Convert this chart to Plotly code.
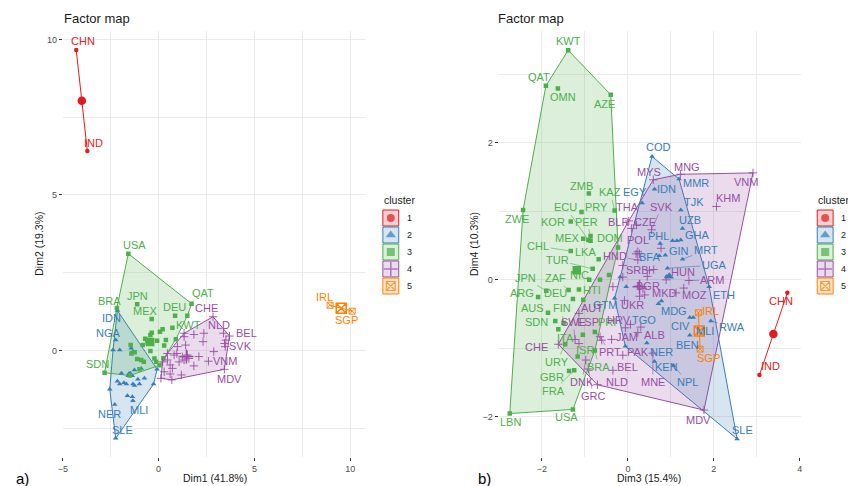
"""Two fviz_cluster style factor maps (Dim1/Dim2 and Dim3/Dim4) side by side."""

import plotly.graph_objects as go

W, H = 848, 486
FONT = "Liberation Sans, Arial, sans-serif"
COLORS = ["#E41A1C", "#377EB8", "#4DAF4A", "#984EA3", "#FF7F00"]
FILLS = ["rgba(228,26,28,0.2)", "rgba(55,126,184,0.2)", "rgba(77,175,74,0.2)",
         "rgba(152,78,163,0.2)", "rgba(255,127,0,0.2)"]
SYMBOLS = ["circle", "triangle-up", "square", "cross-thin", "square-x-open"]
CLUSTERS = ["1", "2", "3", "4", "5"]

# ---- panel a: Dim1 / Dim2 ----
A_C1_NAMES = ["CHN", "IND"]
A_C1_X = [-4.30, -3.72]
A_C1_Y = [9.66, 6.41]

A_C2_NAMES = ["IDN", "NGA", "", "", "", "", "", "", "", "", "", "", "", "", "",
              "", "", "", "", "", "", "", "MLI", "NER", "SLE", "", "", ""]
A_C2_X = [-2.15, -2.24, -2.38, -2.03, -1.43, -1.34, -1.55, -1.45, -1.26, -0.91, -1.94, -2.15,
          -2.03, -1.81, -1.68, -1.34, -1.26, -1.00, -1.08, -0.74, -1.63, -1.37, -1.34, -2.29,
          -2.24, -2.55, -0.26, -0.08]
A_C2_Y = [1.28, 0.33, 0.01, 0.01, 0.07, -0.04, -0.75, -0.82, -0.63, -0.58, -0.74, -0.99,
          -1.08, -1.04, -1.08, -1.08, -1.13, -1.08, -0.93, -0.90, -1.46, -1.49, -1.62, -1.74,
          -2.83, -1.25, -1.08, -0.61]

A_C3_NAMES = ["USA", "QAT", "BRA", "SDN", "JPN", "MEX", "DEU", "", "KWT", "", "", "", "",
              "", "", "", "", "", "", "", "", "", "", "", "", "", "", "", "", "", "", "",
              "", "", ""]
A_C3_X = [-1.58, 1.72, -2.18, -2.82, -1.12, -0.36, 0.86, 1.50, 0.72, 0.21, 0.07, -0.36,
          -0.43, -0.70, -0.60, -0.48, -0.57, -0.08, 0.38, 0.29, -0.83, -1.46, -1.25, -1.42,
          -1.12, -0.91, -0.77, -0.43, -0.22, -0.13, 0.25, -1.00, -1.50, 0.05, 0.90]
A_C3_Y = [3.11, 1.50, 1.36, -0.72, 1.48, 1.01, 1.11, 1.11, 0.73, 0.68, 0.60, 0.57,
          0.49, 0.37, 0.33, 0.30, 0.23, 0.31, 0.33, 0.16, 0.17, 0.17, -0.06, -0.10,
          -0.28, -0.31, -0.37, -0.02, -0.26, -0.37, -0.25, -0.61, -0.81, -0.48, 0.36]

A_C4_NAMES = ["CHE", "NLD", "BEL", "SVK", "VNM", "MDV"] + [""] * 29
A_C4_X = [2.84, 3.39, 3.70, 3.44, 2.88, 3.43, 3.51, 3.48, 2.36, 1.84, 2.32, 1.33, 1.41,
          0.98, 0.95, 1.24, 1.50, 1.58, 1.33, 1.07, 1.84, 1.19, 0.69, 0.12, 0.21, 0.46,
          0.60, 0.72, 0.29, 0.60, 0.81, 0.46, 2.10, 2.60, 1.33]
A_C4_Y = [1.08, 0.55, 0.46, 0.22, -0.04, -0.61, 0.33, 0.12, 0.55, 0.51, 0.28, 0.44, 0.17,
          0.12, -0.10, -0.21, -0.15, -0.26, -0.31, -0.37, -0.50, -0.79, -0.95, -0.90,
          -0.37, -0.31, -0.47, -0.58, -0.69, -0.76, -0.15, -0.10, -0.20, -0.35, 0.55]

A_C5_NAMES = ["IRL", "SGP"]
A_C5_X = [8.95, 10.10]
A_C5_Y = [1.45, 1.26]

A_CENTER_X = [-4.01, -1.48, -0.44, 1.45, 9.53]
A_CENTER_Y = [8.03, -0.79, 0.27, -0.20, 1.355]

# ---- panel b: Dim3 / Dim4 ----
B_C1_NAMES = ["CHN", "IND"]
B_C1_X = [3.71, 3.06]
B_C1_Y = [-0.19, -1.39]

B_C2_NAMES = ["COD", "MMR", "IDN", "EGY", "TJK", "UZB", "GHA", "", "", "PHL", "GIN", "BFA",
              "MRT", "UGA", "ETH", "GTM", "", "", "MDG", "TGO", "CIV", "MLI", "RWA", "BEN",
              "NER", "", "KEN", "NPL", "SLE", ""]
B_C2_X = [0.56, 1.19, 0.62, 0.33, 1.23, 1.27, 1.23, 1.14, 1.04, 0.75, 0.87, 0.73, 1.27,
          0.92, 1.89, -0.31, -0.04, -0.18, 0.78, 0.71, 1.44, 1.52, 1.93, 1.44, 0.44, -0.06,
          0.62, 1.06, 2.54, 0.90]
B_C2_Y = [1.80, 1.47, 1.32, 1.12, 1.02, 0.75, 0.58, 0.57, 0.57, 0.53, 0.36, 0.35, 0.30,
          0.17, -0.10, -0.27, -0.10, 0.04, -0.31, -0.35, -0.55, -0.55, -0.60, -0.81, -0.92,
          -0.97, -1.19, -1.25, -2.32, 0.05]

B_C3_NAMES = ["KWT", "QAT", "OMN", "AZE", "ZMB", "KAZ", "ZWE", "PRY", "KOR", "MEX", "ECU",
              "PER", "DOM", "CHL", "LKA", "TUR", "NIC", "", "", "", "JPN", "ARG", "ZAF",
              "DEU", "HTI", "", "AUS", "SDN", "FIN", "ITA", "URY", "", "PRI", "ISR", "BRA",
              "GBR", "FRA", "USA", "LBN"]
B_C3_X = [-1.39, -1.91, -1.63, -0.40, -0.91, -0.31, -2.44, -1.08, -1.33, -1.04, -0.92,
          -0.87, -0.87, -1.33, -0.68, -0.82, -0.90, -0.65, -0.44, -0.23, -1.90, -2.09,
          -1.38, -1.28, -1.04, -1.14, -1.86, -1.69, -1.50, -1.62, -1.46, -1.05, -0.77,
          -1.17, -0.77, -1.37, -1.25, -1.28, -2.75]
B_C3_Y = [3.35, 2.83, 2.79, 2.70, 1.26, 1.01, 1.02, 0.99, 0.85, 0.60, 0.58, 0.64, 0.57,
          0.42, 0.30, 0.16, 0.00, 0.00, 0.07, 0.47, -0.16, -0.25, -0.15, -0.28, -0.29,
          -0.14, -0.48, -0.60, -0.63, -0.72, -0.94, -0.80, -0.76, -1.12, -1.03, -1.33,
          -1.32, -1.89, -1.95]

B_C4_NAMES = ["MYS", "MNG", "VNM", "KHM", "THA", "BLR", "CZE", "SVK", "POL", "HND", "", "",
              "", "SRB", "", "HUN", "ARM", "MKD", "MOZ", "BGR", "", "", "", "", "", "", "UKR",
              "AUT", "HRV", "SWE", "ESP", "JAM", "ALB", "PRT", "PAK", "BEL", "NLD", "DNK",
              "GRC", "MNE", "MDV", "CHE", "", "", "", ""]
B_C4_X = [0.59, 1.22, 2.91, 2.06, 0.02, 0.08, 0.20, 0.55, 0.23, 0.23, 0.77, -0.12, -0.12,
          0.50, 0.60, 0.89, 1.42, 1.12, 1.30, 0.25, 0.35, 0.39, 0.27, -0.35, 0.19, 0.27,
          -0.08, -1.14, -0.06, -1.23, -0.61, -0.38, 0.23, -0.65, -0.12, -0.35, -0.71,
          -0.98, -0.92, 0.58, 1.77, -1.62, -1.14, 0.06, 0.30, 0.45]
B_C4_Y = [1.46, 1.54, 1.56, 1.07, 0.86, 0.75, 0.80, 0.73, 0.41, 0.29, 0.46, 0.21, 0.04,
          0.14, 0.15, 0.00, -0.01, -0.19, -0.12, -0.09, -0.13, -0.22, -0.24, -0.10, 0.38,
          0.38, -0.30, -0.49, -0.70, -0.87, -0.88, -0.87, -0.77, -0.83, -1.10, -1.32,
          -1.53, -1.17, -1.30, -1.07, -1.90, -0.94, -0.93, -0.65, -0.69, 0.05]

B_C5_NAMES = ["IRL", "SGP"]
B_C5_X = [1.64, 1.68]
B_C5_Y = [-0.48, -1.01]

B_CENTER_X = [3.385, 0.96, -1.19, 0.27, 1.66]
B_CENTER_Y = [-0.79, 0.05, 0.14, -0.10, -0.745]

# ---- text placement of the repelled labels (pixel offsets from the point) ----
SHIFT_A = {
    "CHN": (6.7, -9), "IND": (6.5, -7.7), "IRL": (-6, -8), "SGP": (-5.8, 9),
    "USA": (5.8, -8.6), "QAT": (11.5, -11), "BRA": (-6.9, -7), "IDN": (-5.5, 7.8),
    "NGA": (-6.9, -6.7), "SDN": (-6.7, -8.7), "JPN": (0.6, -8.7), "MEX": (-5.9, -8.3),
    "DEU": (-0.2, -8.7), "KWT": (16.4, -2.6), "CHE": (-6.3, -8.4), "NLD": (-4.5, -8.2),
    "BEL": (17.5, -3.4), "SVK": (15.7, 2.5), "VNM": (11.2, 9.5), "MDV": (5.1, 10),
    "NER": (-5.7, 9.6), "MLI": (5.9, 9.3), "SLE": (6.4, -8.3),
}
SEG_A = set()

SHIFT_B = {
    "CHN": (-6.8, 8.3), "IND": (10.8, -8.9), "IRL": (12.3, -1.6), "SGP": (8.2, 9.4),
    "KWT": (0, -9), "QAT": (-6.5, -8.8), "OMN": (5.3, 8.4), "AZE": (-6, 9.3),
    "ZMB": (-6.9, -7.4), "KAZ": (-4.2, -18.2), "ZWE": (-5.6, 9.2), "PRY": (15.2, -4.6),
    "KOR": (-17.4, 0.2), "MEX": (-16.2, -0.3), "ECU": (-22.7, -32.7), "PER": (-3.9, -14.2),
    "DOM": (19.4, -3), "CHL": (-32.4, -4.9), "LKA": (-12.8, -7.5), "TUR": (-35.5, -8.7),
    "NIC": (-9.3, -4.7), "JPN": (-21, -12.4), "ARG": (-16, -3.5), "ZAF": (-13.5, -11.7),
    "DEU": (-17.8, -5.6), "HTI": (8.5, -9.6), "AUS": (-16, -4.3), "SDN": (-18.4, 0.9),
    "FIN": (-1.6, -14.6), "ITA": (6.9, 8.3), "URY": (-8.3, 17.6), "PRI": (12.1, -10.1),
    "ISR": (7.4, -7.1), "BRA": (4.1, 16.4), "GBR": (-17.2, 5.9), "FRA": (-20.8, 20.6),
    "USA": (-6.1, 7.5), "LBN": (0.6, 8.4),
    "COD": (6.4, -9.1), "MMR": (16.8, 4.3), "IDN": (12.1, 0), "EGY": (-7.6, -11.3),
    "TJK": (13.4, -8.1), "UZB": (7.4, -8.3), "GHA": (16.7, -5), "PHL": (-1.8, -7.4),
    "GIN": (13.3, -4.3), "BFA": (-10, 1), "MRT": (23.4, -9.2), "UGA": (46.8, -3.1),
    "ETH": (14.8, 8.4), "GTM": (-9.9, 6.8), "MDG": (12.9, 10.1), "TGO": (-14.1, 16.3),
    "CIV": (-9, 8.6), "MLI": (11.8, 13.3), "RWA": (21.4, 5.9), "BEN": (-2.4, 9.8),
    "NER": (14.3, 9), "KEN": (11.5, 5.5), "NPL": (14.1, 16.4), "SLE": (5.9, -8.6),
    "MYS": (-3.9, -7.4), "MNG": (6.5, -7.5), "VNM": (-6.7, 8.8), "KHM": (11.7, -8.1),
    "THA": (-0.9, -13.5), "BLR": (-12.8, -6.6), "CZE": (8, -3.2), "SVK": (10.2, -23),
    "POL": (0, -11.6), "HND": (-23.3, -3.8), "SRB": (-11.7, -0.1), "HUN": (16.4, -8),
    "ARM": (23.5, -0.4), "MKD": (-11.8, 0.6), "MOZ": (10.4, 7.1), "BGR": (9.2, -0.2),
    "UKR": (8.5, 4.7), "AUT": (12.8, -5), "HRV": (-6.7, -7.7), "SWE": (-2, -17.6),
    "ESP": (-13.9, -18.3), "JAM": (14.9, -2), "ALB": (16.7, 2.6), "PRT": (9.9, 15.7),
    "PAK": (15.2, -3.4), "BEL": (14.2, -3.4), "NLD": (19.2, -2.8), "DNK": (-4.1, 21.9),
    "GRC": (4.9, 27.2), "MNE": (0, 28.7), "MDV": (-5.7, 10.1), "CHE": (-21.4, 2.6),
}
SEG_B = {"KAZ", "ECU", "PER", "CHL", "TUR", "JPN", "ZAF", "FIN", "URY", "BRA", "FRA",
         "MRT", "UGA", "RWA", "NPL", "SVK", "HND", "ARM", "SWE", "ESP", "PRT", "DNK",
         "GRC", "MNE"}

A_POINTS = [(A_C1_NAMES, A_C1_X, A_C1_Y), (A_C2_NAMES, A_C2_X, A_C2_Y),
            (A_C3_NAMES, A_C3_X, A_C3_Y), (A_C4_NAMES, A_C4_X, A_C4_Y),
            (A_C5_NAMES, A_C5_X, A_C5_Y)]
B_POINTS = [(B_C1_NAMES, B_C1_X, B_C1_Y), (B_C2_NAMES, B_C2_X, B_C2_Y),
            (B_C3_NAMES, B_C3_X, B_C3_Y), (B_C4_NAMES, B_C4_X, B_C4_Y),
            (B_C5_NAMES, B_C5_X, B_C5_Y)]


def convex_hull(xs, ys):
    """Monotone chain hull, closed, as x and y lists."""
    pts = sorted(set(zip(xs, ys)))
    if len(pts) < 3:
        return [p[0] for p in pts], [p[1] for p in pts]

    def cross(o, a, b):
        return (a[0] - o[0]) * (b[1] - o[1]) - (a[1] - o[1]) * (b[0] - o[0])

    lower, upper = [], []
    for p in pts:
        while len(lower) >= 2 and cross(lower[-2], lower[-1], p) <= 0:
            lower.pop()
        lower.append(p)
    for p in reversed(pts):
        while len(upper) >= 2 and cross(upper[-2], upper[-1], p) <= 0:
            upper.pop()
        upper.append(p)
    ring = lower[:-1] + upper[:-1]
    ring.append(ring[0])
    return [p[0] for p in ring], [p[1] for p in ring]


fig = go.Figure()
annotations = []


def add_panel(points, cx, cy, xa, ya, shifts, segs):
    for k, (_, xs, ys) in enumerate(points):
        hx, hy = convex_hull(xs, ys)
        fig.add_trace(go.Scatter(
            x=hx, y=hy, mode="lines", fill="toself", fillcolor=FILLS[k],
            line=dict(color=COLORS[k], width=1), xaxis=xa, yaxis=ya,
            hoverinfo="skip", showlegend=False))
    for k, (names, xs, ys) in enumerate(points):
        stroked = SYMBOLS[k] == "cross-thin" or SYMBOLS[k].endswith("open")
        fig.add_trace(go.Scatter(
            x=xs, y=ys, mode="markers", text=names, xaxis=xa, yaxis=ya, showlegend=False,
            marker=dict(symbol=SYMBOLS[k], color=COLORS[k],
                        size=6 if stroked else (5 if k == 1 else 4.5),
                        line=dict(color=COLORS[k], width=0.9 if stroked else 0))))
        fig.add_trace(go.Scatter(
            x=[cx[k]], y=[cy[k]], mode="markers", xaxis=xa, yaxis=ya, showlegend=False,
            hoverinfo="skip",
            marker=dict(symbol=SYMBOLS[k], color=COLORS[k], size=10 if stroked else 8.5,
                        line=dict(color=COLORS[k], width=1.5 if stroked else 0))))
        for name, x, y in zip(names, xs, ys):
            if not name:
                continue
            dx, dy = shifts[name]
            ann = dict(x=x, y=y, xref=xa, yref=ya, text=name,
                       font=dict(family=FONT, size=11, color=COLORS[k]))
            if name in segs:
                ann.update(showarrow=True, ax=dx, ay=dy, arrowhead=0, arrowwidth=0.6,
                           arrowcolor=COLORS[k], standoff=1)
            else:
                ann.update(showarrow=False, xshift=dx, yshift=-dy,
                           xanchor="center", yanchor="middle")
            annotations.append(ann)


add_panel(A_POINTS, A_CENTER_X, A_CENTER_Y, "x", "y", SHIFT_A, SEG_A)
add_panel(B_POINTS, B_CENTER_X, B_CENTER_Y, "x2", "y2", SHIFT_B, SEG_B)


def paper(px, py):
    return px / W, 1 - py / H


def text_at(px, py, text, size, color="#1A1A1A", anchor="center", angle=0):
    x, y = paper(px, py)
    annotations.append(dict(x=x, y=y, xref="paper", yref="paper", text=text,
                            showarrow=False, xanchor=anchor, yanchor="middle",
                            textangle=angle, font=dict(family=FONT, size=size, color=color)))


# titles, axis titles, panel tags
text_at(57, 19, "Factor map", 13, anchor="left")
text_at(495, 19, "Factor map", 13, anchor="left")
text_at(211.3, 477.5, "Dim1 (41.8%)", 10.5)
text_at(649.5, 477.5, "Dim3 (15.4%)", 10.5)
text_at(34, 244, "Dim2 (19.3%)", 10.5, angle=-90)
text_at(473, 244, "Dim4 (10.3%)", 10.5, angle=-90)
text_at(18, 478, "a)", 15, color="#000000")
text_at(483, 478, "b)", 15, color="#000000")

# hand-drawn legends (key box + symbol) on a full-figure pixel overlay
shapes = []
for left in (381, 819):
    text_at(left - 1, 200, "cluster", 10.5, anchor="left")
    for k, label in enumerate(CLUSTERS):
        top = 210 + 17 * k
        shapes.append(dict(type="rect", xref="x3", yref="y3", x0=left, x1=left + 16,
                           y0=top, y1=top + 16, fillcolor=FILLS[k],
                           line=dict(color=COLORS[k], width=1)))
        text_at(left + 22, top + 8, label, 9, anchor="left")
    fig.add_trace(go.Scatter(
        x=[left + 8] * 5, y=[218 + 17 * k for k in range(5)], mode="markers",
        xaxis="x3", yaxis="y3", showlegend=False, hoverinfo="skip",
        marker=dict(symbol=SYMBOLS, color=COLORS, size=[8, 9, 8, 10, 9],
                    line=dict(color=COLORS, width=[0, 0, 0, 1.5, 1.2]))))

grid = dict(showgrid=True, gridcolor="#EBEBEB", gridwidth=1, zeroline=False, showline=False,
            ticks="outside", ticklen=3, tickcolor="#333333", tickwidth=1,
            tickfont=dict(family=FONT, size=9, color="#4D4D4D"))
y_dom = [1 - 456.7 / H, 1 - 31 / H]

fig.update_layout(
    width=W, height=H, margin=dict(l=0, r=0, t=0, b=0),
    paper_bgcolor="white", plot_bgcolor="rgba(0,0,0,0)",
    showlegend=False, annotations=annotations, shapes=shapes,
    xaxis=dict(domain=[58.3 / W, 364.3 / W], range=[-5.0, 10.84], dtick=5, tick0=0,
               minor=dict(dtick=2.5, showgrid=True, gridcolor="#EBEBEB", gridwidth=0.6),
               anchor="y", **grid),
    yaxis=dict(domain=y_dom, range=[-3.42, 10.27], dtick=5, tick0=0,
               minor=dict(dtick=2.5, showgrid=True, gridcolor="#EBEBEB", gridwidth=0.6),
               anchor="x", **grid),
    xaxis2=dict(domain=[497.7 / W, 802.3 / W], range=[-3.01, 4.02], dtick=2, tick0=0,
                minor=dict(dtick=1, showgrid=True, gridcolor="#EBEBEB", gridwidth=0.6),
                anchor="y2", **grid),
    yaxis2=dict(domain=y_dom, range=[-2.58, 3.63], dtick=2, tick0=0,
                minor=dict(dtick=1, showgrid=True, gridcolor="#EBEBEB", gridwidth=0.6),
                anchor="x2", **grid),
    xaxis3=dict(domain=[0, 1], range=[0, W], visible=False, anchor="y3", fixedrange=True),
    yaxis3=dict(domain=[0, 1], range=[H, 0], visible=False, anchor="x3", fixedrange=True),
)

# the page's default body margin would push the fixed-size figure off the window
fig.write_html("out.html", config={"responsive": False, "displayModeBar": False},
               post_script="document.body.style.margin='0';"
                           "document.body.style.overflow='hidden';")
